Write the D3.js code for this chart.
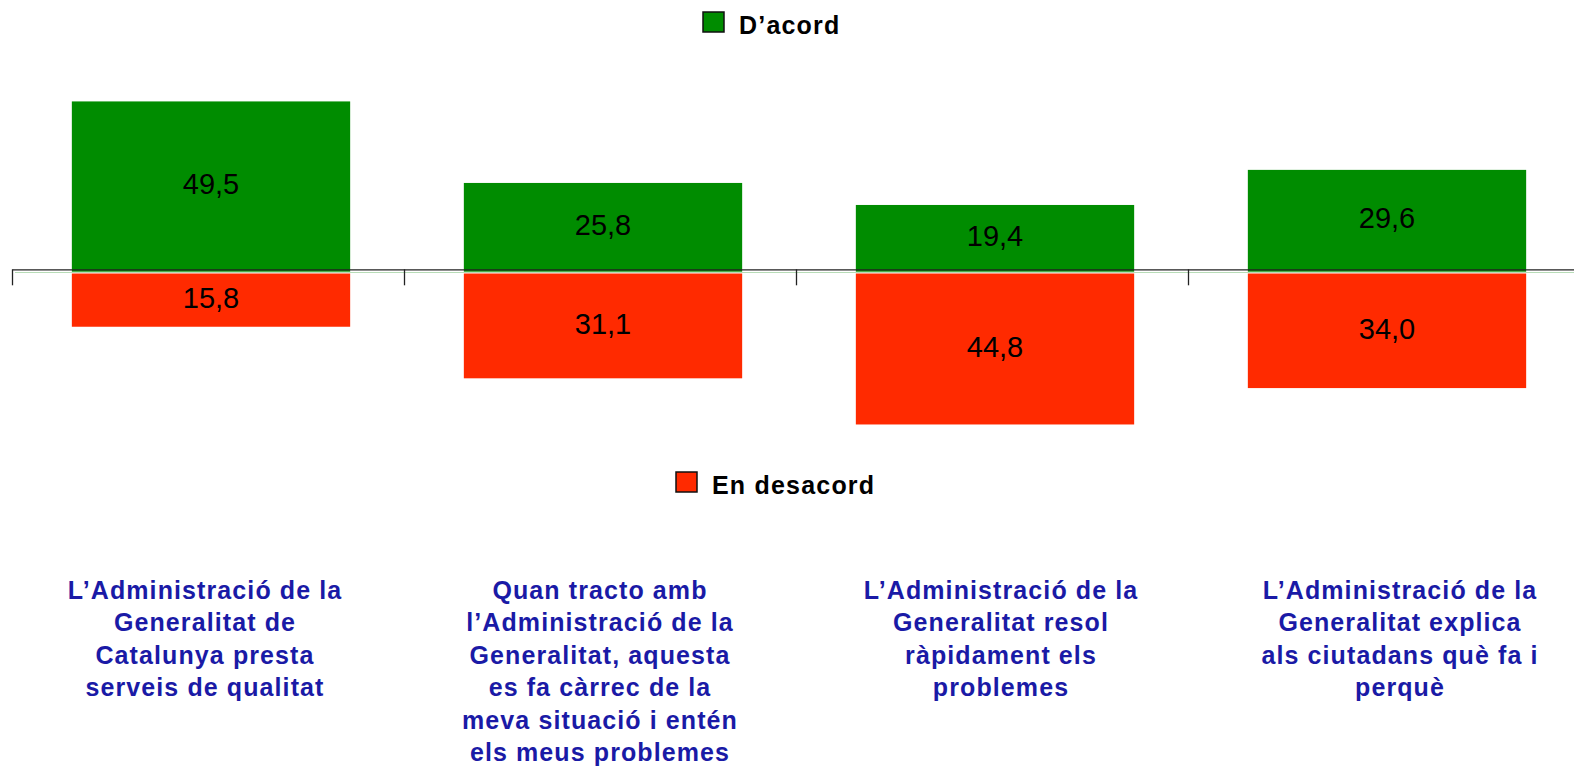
<!DOCTYPE html>
<html>
<head>
<meta charset="utf-8">
<script src="https://cdn.jsdelivr.net/npm/d3@7"></script>
<style>
  html, body { margin: 0; padding: 0; background: #fff; }
  svg { display: block; font-family: Arial, "Liberation Sans", sans-serif; }
</style>
</head>
<body>
<div id="chart"></div>
<script>
// data
const categories = [
  ["L\u2019Administració de la", "Generalitat de", "Catalunya presta", "serveis de qualitat"],
  ["Quan tracto amb", "l\u2019Administració de la", "Generalitat, aquesta", "es fa càrrec de la", "meva situació i entén", "els meus problemes"],
  ["L\u2019Administració de la", "Generalitat resol", "ràpidament els", "problemes"],
  ["L\u2019Administració de la", "Generalitat explica", "als ciutadans què fa i", "perquè"]
];
const agree = [49.5, 25.8, 19.4, 29.6];
const disagree = [15.8, 31.1, 44.8, 34.0];
const seriesNames = ["D\u2019acord", "En desacord"];

const W = 1574, H = 767;
const green = "#008c00", red = "#ff2a00", blue = "#1a1aa6";

const svg = d3.select("#chart").append("svg")
  .attr("width", W).attr("height", H);

const idx = d3.range(categories.length);

// =====================
// SCALES
// =====================
const xOuter = d3.scaleBand().domain(idx).range([12, 12 + 392 * 4]).padding(0);
const x = d3.scaleBand().domain(idx).range([15, 15 + 392 * 4])
  .paddingInner(0.29).paddingOuter(0.145);
// primary axis (agree, up) and secondary axis (disagree, down)
const yUp = d3.scaleLinear().domain([0, 50]).range([271.7, 271.7 - 172]);
const yDown = d3.scaleLinear().domain([0, 50]).range([273.5, 273.5 + 168.5]);

// =====================
// BARS
// =====================
svg.append("g").selectAll("rect")
  .data(idx).enter().append("rect")
  .attr("x", i => x(i))
  .attr("width", x.bandwidth())
  .attr("y", i => yUp(agree[i]))
  .attr("height", i => yUp(0) - yUp(agree[i]))
  .attr("fill", green);

svg.append("g").selectAll("rect")
  .data(idx).enter().append("rect")
  .attr("x", i => x(i))
  .attr("width", x.bandwidth())
  .attr("y", yDown(0))
  .attr("height", i => yDown(disagree[i]) - yDown(0))
  .attr("fill", red);

// value labels
const fmt = v => v.toFixed(1).replace(".", ",");
svg.append("g").selectAll("text")
  .data(idx).enter().append("text")
  .attr("x", i => x(i) + x.bandwidth() / 2)
  .attr("y", i => (yUp(agree[i]) + yUp(0)) / 2 - 2.5)
  .attr("dy", "0.35em")
  .attr("text-anchor", "middle")
  .style("font-size", "29px")
  .text(i => fmt(agree[i]));

svg.append("g").selectAll("text")
  .data(idx).enter().append("text")
  .attr("x", i => x(i) + x.bandwidth() / 2)
  .attr("y", i => (yDown(disagree[i]) + yDown(0)) / 2 - 2)
  .attr("dy", "0.35em")
  .attr("text-anchor", "middle")
  .style("font-size", "29px")
  .text(i => fmt(disagree[i]));

// =====================
// AXIS
// =====================
const tickScale = d3.scaleLinear().domain([0, 4]).range([12, 12 + 392 * 4]);

// faint secondary axis line
svg.append("line")
  .attr("x1", 15).attr("x2", W)
  .attr("y1", 272.5).attr("y2", 272.5)
  .attr("stroke", "#b8dcb8").attr("stroke-width", 1);

const axis = svg.append("g")
  .attr("transform", "translate(0,269.3)")
  .call(d3.axisBottom(tickScale).tickValues([0, 1, 2, 3])
    .tickSize(16).tickSizeOuter(0).tickFormat(""));
axis.select(".domain").attr("stroke", "#222").attr("stroke-width", 1.3);
axis.selectAll(".tick line").attr("stroke", "#222").attr("stroke-width", 1.3);

// =====================
// LEGEND
// =====================
const legend = [
  { name: seriesNames[0], color: green, x: 703, y: 12 },
  { name: seriesNames[1], color: red, x: 676, y: 472 }
];
legend.forEach(l => {
  svg.append("rect")
    .attr("x", l.x).attr("y", l.y)
    .attr("width", 21).attr("height", 20)
    .attr("fill", l.color)
    .attr("stroke", "#111").attr("stroke-width", 1.5);
  svg.append("text")
    .attr("x", l.x + 36).attr("y", l.y + 13)
    .attr("dy", "0.35em")
    .style("font-size", "25px").style("font-weight", "bold")
    .style("letter-spacing", "1.2px")
    .text(l.name);
});

// =====================
// CATEGORY LABELS
// =====================
const cat = svg.append("g").selectAll("text")
  .data(idx).enter().append("text")
  .attr("x", i => xOuter(i) + xOuter.bandwidth() / 2 + [-3, 0, 9, 16][i])
  .attr("y", 590)
  .attr("text-anchor", "middle")
  .style("font-size", "25px").style("font-weight", "bold")
  .style("letter-spacing", "1.1px")
  .attr("fill", blue);

cat.selectAll("tspan")
  .data(i => categories[i].map(t => ({ t, i })))
  .enter().append("tspan")
  .attr("x", function(d) { return d3.select(this.parentNode).attr("x"); })
  .attr("dy", (d, k) => k === 0 ? "0.35em" : "32.5px")
  .text(d => d.t);
</script>
</body>
</html>
